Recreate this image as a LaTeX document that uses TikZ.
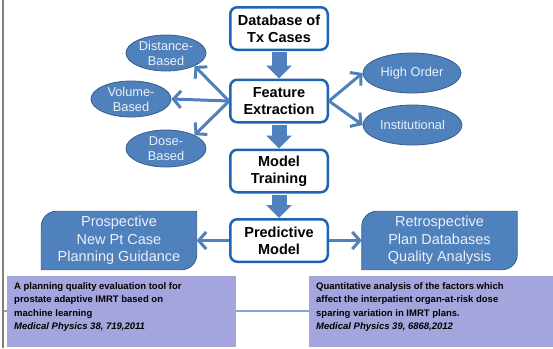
\documentclass[tikz,border=0pt]{standalone}
\usepackage{fontspec}
\setmainfont{Liberation Sans}
\usetikzlibrary{arrows.meta,shapes.geometric,backgrounds}
\definecolor{obl}{RGB}{79,129,189}
\definecolor{obd}{RGB}{56,93,138}
\definecolor{bxb}{RGB}{30,100,180}
\definecolor{lav}{RGB}{165,165,222}
\definecolor{ltxt}{RGB}{235,240,248}
\definecolor{hline}{RGB}{140,160,215}
\begin{document}
\begin{tikzpicture}[x=1pt,y=-1pt,
 mainbox/.style={draw=bxb, line width=2.5pt, fill=white, rounded corners=7pt, minimum width=97.5pt, minimum height=42.5pt, inner sep=0pt, align=center, font=\fontsize{14.5}{17}\selectfont\bfseries},
 feat/.style={ellipse, draw=obd, line width=0.8pt, fill=obl, inner sep=0pt},
 feattext/.style={inner sep=0pt, align=center, text=ltxt, font=\fontsize{12.8}{15}\selectfont},
 blockarrow/.style={obl, line width=15pt, -{Triangle[length=13pt,width=25pt]}},
 thinarrow/.style={obl, line width=3pt, -{Straight Barb[length=7.5pt,width=17pt]}},
 outbox/.style={inner sep=0pt, minimum width=155pt, minimum height=58pt, align=center, text=ltxt, font=\fontsize{14.5}{17.5}\selectfont},
 outshape/.style={fill=obl, draw=obd, line width=0.8pt},
 refbox/.style={fill=lav, draw=none, anchor=north west, minimum height=71pt, inner sep=0pt},
 reftext/.style={anchor=north west, align=left, inner sep=0pt, font=\fontsize{9.5}{13.4}\selectfont\bfseries}
]
\useasboundingbox (0,0) rectangle (553,348);
\begin{pgfonlayer}{background}
\fill[white] (0,0) rectangle (553,348);
\end{pgfonlayer}
\coordinate (gtop) at (3,0);
\coordinate (gbot) at (3,348);
\draw[gray, line width=2.2pt] (gtop) -- (gbot);
\coordinate (hl) at (4,311);
\coordinate (hr) at (553,311);
\draw[hline, line width=1.2pt] (hl) -- (hr);

% main column
\node[mainbox] (db) at (279,28.5) {Database of\\Tx Cases};
\node[mainbox] (fe) at (279,101) {Feature\\Extraction};
\node[mainbox] (mt) at (279,171) {Model\\Training};
\node[mainbox] (pm) at (279,240.5) {Predictive\\Model};

\draw[blockarrow] ([yshift=-1.3pt]db.south) -- (fe.north);
\draw[blockarrow] ([yshift=-1.3pt]fe.south) -- (mt.north);
\draw[blockarrow] ([yshift=-1.3pt]mt.south) -- (pm.north);

% feature ellipses
\node[feat, minimum width=80pt, minimum height=36pt] (dist) at (166,53) {};
\node[feattext] (distt) at (dist) {Distance-\\Based};
\node[feat, minimum width=80pt, minimum height=36pt] (vol) at (131,99) {};
\node[feattext] (volt) at (vol) {Volume-\\Based};
\node[feat, minimum width=80pt, minimum height=37pt] (dose) at (166,148.5) {};
\node[feattext] (doset) at (dose) {Dose-\\Based};
\node[feat, minimum width=98pt, minimum height=40pt] (high) at (412,73) {};
\node[feattext] (hight) at (high) {High Order};
\node[feat, minimum width=99pt, minimum height=40pt] (inst) at (412.5,125) {};
\node[feattext] (instt) at (inst) {Institutional};

\draw[thinarrow] (fe.west) -- (dist.south east);
\draw[thinarrow] (fe.west) -- (vol.east);
\draw[thinarrow] (fe.west) -- (dose.north east);
\draw[thinarrow] (fe.east) -- (high.west);
\draw[thinarrow] (fe.east) -- (inst.west);

% output shapes
\node[outbox] (pros) at (119,240.5) {Prospective\\New Pt Case\\Planning Guidance};
\node[outbox] (retro) at (439.5,240.5) {Retrospective\\Plan Databases\\Quality Analysis};
\begin{pgfonlayer}{background}
\draw[outshape] (pros.west) [rounded corners=15pt] -- (pros.north west) [sharp corners] -- (pros.north east) [rounded corners=15pt] -- (pros.south east) [sharp corners] -- (pros.south west) -- cycle;
\draw[outshape] (retro.west) [rounded corners=15pt] -- (retro.north west) [sharp corners] -- (retro.north east) [rounded corners=15pt] -- (retro.south east) [sharp corners] -- (retro.south west) -- cycle;
\end{pgfonlayer}
\draw[thinarrow] (pm.west) -- (pros.east);
\draw[thinarrow] (pm.east) -- (retro.west);

% reference boxes
\node[refbox, minimum width=229pt] (r1) at (7,276) {};
\node[reftext] (r1t) at (14,282.5) {A planning quality evaluation tool for\\prostate adaptive IMRT based on\\machine learning\\\textit{Medical Physics 38, 719,2011}};
\node[refbox, minimum width=244pt] (r2) at (309,276) {};
\node[reftext] (r2t) at (316,282.5) {Quantitative analysis of the factors which\\affect the interpatient organ-at-risk dose\\sparing variation in IMRT plans.\\\textit{Medical Physics 39, 6868,2012}};
\end{tikzpicture}
\end{document}
